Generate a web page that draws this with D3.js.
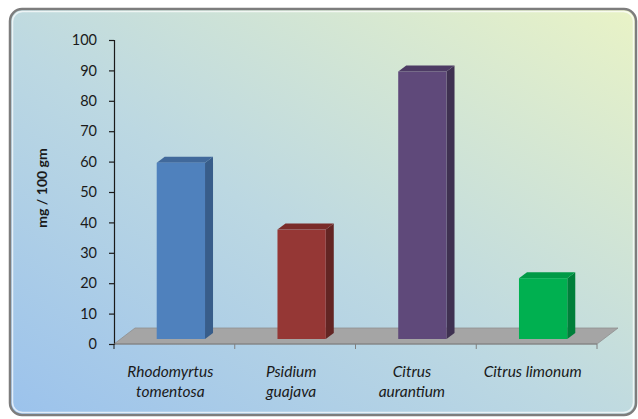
<!DOCTYPE html>
<html>
<head>
<meta charset="utf-8">
<script src="https://cdn.jsdelivr.net/npm/d3@7"></script>
<style>
  html, body { margin: 0; padding: 0; background: #ffffff; }
  svg { display: block; }
</style>
</head>
<body>
<svg id="chart" width="638" height="419"></svg>
<script>
// Fruit species and their content (mg per 100 gm)
const categories = ["Rhodomyrtus tomentosa", "Psidium guajava", "Citrus aurantium", "Citrus limonum"];
const labelLines = [["Rhodomyrtus", "tomentosa"], ["Psidium", "guajava"], ["Citrus", "aurantium"], ["Citrus limonum"]];
const values = [58, 36, 88, 20];
const yTicks = [0, 10, 20, 30, 40, 50, 60, 70, 80, 90, 100];
const frontColors = ["#4f81bd", "#953735", "#5f497a", "#00b050"];
const sideColors = ["#385d8a", "#632523", "#3f3151", "#007f3a"];
const topColors = ["#41699b", "#7a2c2a", "#4d3b64", "#009a46"];

const svg = d3.select("#chart");
const font = "Lato, 'Open Sans', sans-serif";

// background panel gradient
const defs = svg.append("defs");
const grad = defs.append("linearGradient").attr("id", "bg")
  .attr("x1", "0").attr("y1", "1").attr("x2", "1").attr("y2", "0");
grad.append("stop").attr("offset", "0").attr("stop-color", "#9bc2ec");
grad.append("stop").attr("offset", "0.45").attr("stop-color", "#bcd8e2");
grad.append("stop").attr("offset", "1").attr("stop-color", "#e9f3c6");

svg.append("rect")
  .attr("x", 10).attr("y", 9).attr("width", 626).attr("height", 406)
  .attr("rx", 12).attr("ry", 12)
  .attr("fill", "url(#bg)")
  .attr("stroke", "#7d7d7d").attr("stroke-width", 2.5);
svg.append("rect")
  .attr("x", 12.5).attr("y", 11.5).attr("width", 621).attr("height", 401)
  .attr("rx", 10).attr("ry", 10)
  .attr("fill", "none")
  .attr("stroke", "#ffffff").attr("stroke-opacity", 0.7).attr("stroke-width", 1.5);

// plot geometry
const plotLeft = 114, plotRight = 597, plotTop = 40, plotBottom = 344;
const floorDx = 21, floorDy = -16;   // floor depth
const barDx = 8, barDy = -6;         // bar depth
const placeDx = 6.5, placeDy = -5;   // bar placement within floor depth

const x = d3.scaleBand().domain(categories).range([plotLeft, plotRight]).paddingInner(0).paddingOuter(0);
const y = d3.scaleLinear().domain([0, 100]).range([plotBottom, plotTop]);
const pts = a => a.map(p => p.join(",")).join(" ");

// floor
svg.append("polygon")
  .attr("points", pts([[plotLeft, plotBottom], [plotRight, plotBottom], [plotRight + floorDx, plotBottom + floorDy], [plotLeft + floorDx, plotBottom + floorDy]]))
  .attr("fill", "#a5a5a5")
  .attr("stroke", "#8f8f8f").attr("stroke-width", 0.8);

// y axis
const yAxis = d3.axisLeft(y).tickValues(yTicks).tickSize(5).tickPadding(12);
const gy = svg.append("g").attr("transform", `translate(${plotLeft},0)`).call(yAxis);
gy.select(".domain").attr("stroke", "#1a1a1a").attr("stroke-width", 1.2);
gy.selectAll(".tick line").attr("stroke", "#1a1a1a").attr("stroke-width", 1.2);
gy.selectAll(".tick text").attr("font-family", font).attr("font-size", 14.5).attr("fill", "#1a1a1a");

// x axis (ticks at category boundaries)
const xAxisLine = svg.append("g");
xAxisLine.append("line")
  .attr("x1", plotLeft).attr("x2", plotRight).attr("y1", plotBottom).attr("y2", plotBottom)
  .attr("stroke", "#7f7f7f").attr("stroke-width", 1);
const bounds = categories.map(c => x(c)).concat([x(categories[categories.length - 1]) + x.bandwidth()]);
xAxisLine.selectAll("line.tick").data(bounds).join("line")
  .attr("class", "tick")
  .attr("x1", d => d).attr("x2", d => d)
  .attr("y1", plotBottom).attr("y2", plotBottom + 5)
  .attr("stroke", d => d === plotLeft ? "#1a1a1a" : "#7f7f7f").attr("stroke-width", 1);

// 3D bars
const bw = x.bandwidth() * 0.4;
const bars = svg.append("g").selectAll("g").data(categories).join("g");
bars.each(function (c, i) {
  const g = d3.select(this);
  const x0 = x(c) + x.bandwidth() * 0.3 + placeDx;
  const x1 = x0 + bw;
  const yTop = y(values[i]) + placeDy;
  const yBot = y(0) + placeDy;
  g.append("polygon")
    .attr("points", pts([[x1, yTop], [x1 + barDx, yTop + barDy], [x1 + barDx, yBot + barDy], [x1, yBot]]))
    .attr("fill", sideColors[i]);
  g.append("polygon")
    .attr("points", pts([[x0, yTop], [x0 + barDx, yTop + barDy], [x1 + barDx, yTop + barDy], [x1, yTop]]))
    .attr("fill", topColors[i]);
  g.append("rect")
    .attr("x", x0).attr("y", yTop).attr("width", bw).attr("height", yBot - yTop)
    .attr("fill", frontColors[i]);
});

// category labels
const lab = svg.append("g");
categories.forEach((c, i) => {
  const cx = x(c) + x.bandwidth() / 2 - 4;
  labelLines[i].forEach((line, j) => {
    lab.append("text")
      .attr("x", cx).attr("y", 377 + j * 20)
      .attr("text-anchor", "middle")
      .attr("font-family", font).attr("font-style", "italic")
      .attr("font-size", 15.5).attr("fill", "#1a1a1a")
      .text(line);
  });
});

// y axis title
svg.append("text")
  .attr("transform", "translate(47,188) rotate(-90)")
  .attr("text-anchor", "middle")
  .attr("font-family", font).attr("font-weight", "bold")
  .attr("font-size", 14).attr("fill", "#1a1a1a")
  .text("mg / 100 gm");
</script>
</body>
</html>
